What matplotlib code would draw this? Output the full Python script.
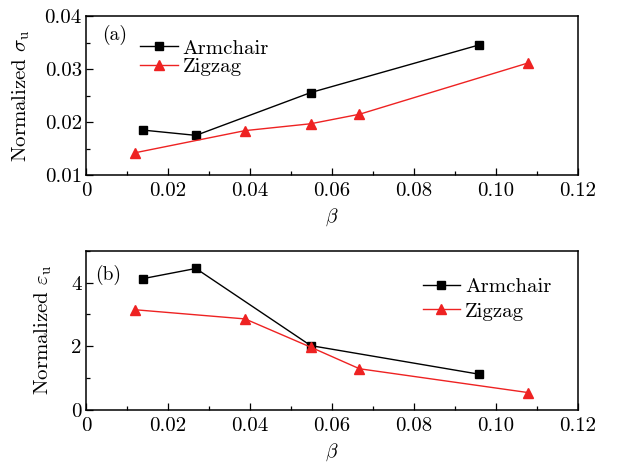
import matplotlib
matplotlib.use("Agg")
import matplotlib.pyplot as plt
from matplotlib.ticker import MultipleLocator, FuncFormatter

plt.rcParams['font.family'] = ['cmr10', 'DejaVu Serif']
plt.rcParams['mathtext.fontset'] = 'cm'
plt.rcParams['axes.formatter.use_mathtext'] = True
plt.rcParams['font.size'] = 15

# Data
arm_x = [0.0139, 0.0268, 0.0548, 0.0958]
arm_sigma = [0.0185, 0.0175, 0.0256, 0.0346]
zig_x = [0.0119, 0.0388, 0.0548, 0.0667, 0.1078]
zig_sigma = [0.0142, 0.0184, 0.0197, 0.0215, 0.0312]

arm_eps = [4.13, 4.45, 2.02, 1.12]
zig_eps = [3.15, 2.86, 1.97, 1.29, 0.54]

labels = ["Armchair", "Zigzag"]

RED = '#ee2222'

fig = plt.figure(figsize=(6.18, 4.62), dpi=100)
ax1 = fig.add_axes([0.1392, 0.6212, 0.7961, 0.3431])
ax2 = fig.add_axes([0.1392, 0.1132, 0.7961, 0.3435])

def fmt_x(v, pos):
    if abs(v) < 1e-9:
        return "0"
    return f"{v:.2f}"

for ax in (ax1, ax2):
    ax.set_xlim(0, 0.12)
    ax.xaxis.set_major_locator(MultipleLocator(0.02))
    ax.xaxis.set_minor_locator(MultipleLocator(0.01))
    ax.xaxis.set_major_formatter(FuncFormatter(fmt_x))
    ax.tick_params(which='both', direction='in', top=False, right=False)
    ax.tick_params(which='major', length=5, width=0.9, labelsize=15)
    ax.tick_params(which='minor', length=3, width=0.9)
    ax.tick_params(axis='x', which='major', pad=5)
    ax.tick_params(axis='y', which='major', pad=3)
    for s in ax.spines.values():
        s.set_linewidth(1.1)
    ax.set_xlabel(r'$\beta$', fontsize=14)
    ax.xaxis.set_label_coords(0.5, -0.2)

# (a)
ax1.plot(arm_x, arm_sigma, color='black', marker='s', markersize=5.2, lw=1.0, label=labels[0])
ax1.plot(zig_x, zig_sigma, color=RED, marker='^', markersize=7, lw=1.0, label=labels[1])
ax1.set_ylim(0.01, 0.04)
ax1.yaxis.set_major_locator(MultipleLocator(0.01))
ax1.yaxis.set_minor_locator(MultipleLocator(0.005))
ax1.yaxis.set_major_formatter(FuncFormatter(lambda v, p: f"{v:.2f}"))
ax1.set_ylabel(r'Normalized $\sigma_{\rm u}$', fontsize=15, va='center')
ax1.yaxis.set_label_coords(-0.1307, 0.5)
ax1.text(0.0325, 0.883, '(a)', transform=ax1.transAxes, fontsize=14, va='center')
ax1.legend(loc='upper left', bbox_to_anchor=(0.1098, 0.858), frameon=False,
           borderpad=0, borderaxespad=0, handlelength=1.8, handletextpad=0.25,
           labelspacing=0.0, fontsize=15)

# (b)
ax2.plot(arm_x, arm_eps, color='black', marker='s', markersize=5.2, lw=1.0, label=labels[0])
ax2.plot(zig_x, zig_eps, color=RED, marker='^', markersize=7, lw=1.0, label=labels[1])
ax2.set_ylim(0, 5)
ax2.yaxis.set_major_locator(MultipleLocator(2))
ax2.yaxis.set_minor_locator(MultipleLocator(1))
ax2.yaxis.set_major_formatter(FuncFormatter(lambda v, p: f"{v:.0f}"))
ax2.set_ylabel(r'Normalized $\varepsilon_{\rm u}$', fontsize=15, va='center')
ax2.yaxis.set_label_coords(-0.088, 0.5)
ax2.text(0.018, 0.85, '(b)', transform=ax2.transAxes, fontsize=14, va='center')
ax2.legend(loc='upper left', bbox_to_anchor=(0.684, 0.834), frameon=False,
           borderpad=0, borderaxespad=0, handlelength=1.8, handletextpad=0.25,
           labelspacing=0.3, fontsize=15)

fig.savefig("out.png", dpi=100)
